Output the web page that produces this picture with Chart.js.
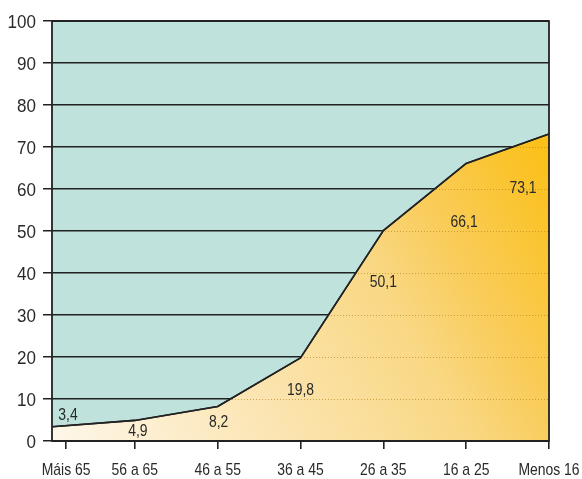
<!DOCTYPE html>
<html>
<head>
<meta charset="utf-8">
<script src="https://cdn.jsdelivr.net/npm/chart.js@4/dist/chart.umd.min.js"></script>
<style>
  html, body { margin: 0; padding: 0; background: #ffffff; }
  #wrap { width: 582px; height: 479px; }
</style>
</head>
<body>
<div id="wrap"><canvas id="c"></canvas></div>
<script>
// Age bands and cumulative share (%)
const categories = ['Máis 65', '56 a 65', '46 a 55', '36 a 45', '26 a 35', '16 a 25', 'Menos 16'];
const shares = [3.4, 4.9, 8.2, 19.8, 50.1, 66.1, 73.1];
const valueLabels = ['3,4', '4,9', '8,2', '19,8', '50,1', '66,1', '73,1'];
const yTicks = [0, 10, 20, 30, 40, 50, 60, 70, 80, 90, 100];

// Styling: where each value label sits relative to its point (px)
const labelOffsets = [[16, -13], [3, 10], [1, 15], [0, 31], [0, 51], [-2, 58], [-26, 53]];
// Category tick slots on the x scale (first one nudged inside the frame)
const tickSlots = [0.17, 1, 2, 3, 4, 5, 6];

const FONT = "'Liberation Sans', Arial, sans-serif";
const INK = '#222222';
const TEXT = '#2a2a2a';
const PLOT_BG = '#bfe3dc';

const points = shares.map((v, i) => ({ x: i, y: v }));

function areaGradient(ctx) {
  const area = ctx.chart.chartArea;
  if (!area) return '#f8d070';
  const g = ctx.chart.ctx.createLinearGradient(area.left, area.bottom, area.right, area.top + 140);
  g.addColorStop(0, '#fef8ea');
  g.addColorStop(0.04, '#fdf5e3');
  g.addColorStop(0.38, '#fbe3ad');
  g.addColorStop(0.64, '#f9d884');
  g.addColorStop(0.75, '#f9ce62');
  g.addColorStop(1, '#fbc01a');
  return g;
}

// condensed text: horizontally squeezed glyphs
function squeezedText(ctx, text, x, y, size, sx, align) {
  ctx.save();
  ctx.font = size + 'px ' + FONT;
  ctx.textAlign = align;
  ctx.textBaseline = 'alphabetic';
  ctx.translate(x, y);
  ctx.scale(sx, 1);
  ctx.fillText(text, 0, 0);
  ctx.restore();
}

const framePlugin = {
  id: 'frame',
  beforeDraw(chart) {
    const { ctx, chartArea: a } = chart;
    ctx.save();
    ctx.fillStyle = PLOT_BG;
    ctx.fillRect(a.left, a.top, a.right - a.left, a.bottom - a.top);
    ctx.restore();
  },
  afterDatasetsDraw(chart) {
    const { ctx, chartArea: a } = chart;
    const meta = chart.getDatasetMeta(0);
    const xScale = chart.scales.x;
    const yScale = chart.scales.y;

    // dotted grid lines inside the filled area
    ctx.save();
    ctx.beginPath();
    meta.data.forEach((p, i) => { if (i === 0) ctx.moveTo(p.x, p.y); else ctx.lineTo(p.x, p.y); });
    ctx.lineTo(a.right, a.bottom);
    ctx.lineTo(a.left, a.bottom);
    ctx.closePath();
    ctx.clip();
    ctx.strokeStyle = 'rgba(190,140,40,0.75)';
    ctx.lineWidth = 1;
    ctx.setLineDash([1, 2]);
    yTicks.forEach(t => {
      const y = Math.round(yScale.getPixelForValue(t)) + 0.5;
      ctx.beginPath();
      ctx.moveTo(a.left, y);
      ctx.lineTo(a.right, y);
      ctx.stroke();
    });
    ctx.restore();

    // outline of the series
    ctx.save();
    ctx.strokeStyle = INK;
    ctx.lineWidth = 1.6;
    ctx.lineJoin = 'round';
    ctx.beginPath();
    meta.data.forEach((p, i) => { if (i === 0) ctx.moveTo(p.x, p.y); else ctx.lineTo(p.x, p.y); });
    ctx.stroke();

    // plot frame
    ctx.lineWidth = 1.8;
    ctx.strokeRect(a.left, a.top, a.right - a.left, a.bottom - a.top);
    ctx.restore();

    ctx.save();
    ctx.fillStyle = TEXT;
    // value labels
    meta.data.forEach((p, i) => {
      const [dx, dy] = labelOffsets[i];
      squeezedText(ctx, valueLabels[i], p.x + dx, p.y + dy + 5.8, 16.2, 0.86, 'center');
    });
    // y tick labels
    yTicks.forEach(t => {
      squeezedText(ctx, String(t), a.left - 16, yScale.getPixelForValue(t) + 6.5, 18.5, 0.92, 'right');
    });
    // category labels
    categories.forEach((c, i) => {
      squeezedText(ctx, c, xScale.getPixelForValue(tickSlots[i]), a.bottom + 34, 17, 0.82, 'center');
    });
    ctx.restore();
  }
};

new Chart(document.getElementById('c'), {
  type: 'line',
  data: {
    datasets: [{
      data: points,
      fill: 'origin',
      backgroundColor: areaGradient,
      borderColor: INK,
      borderWidth: 1.6,
      pointRadius: 0,
      tension: 0
    }]
  },
  options: {
    responsive: true,
    maintainAspectRatio: false,
    animation: false,
    events: [],
    layout: { padding: { top: 21, right: 33, left: 0, bottom: 0 } },
    plugins: { legend: { display: false }, tooltip: { enabled: false } },
    scales: {
      x: {
        type: 'linear',
        min: 0,
        max: categories.length - 1,
        afterBuildTicks(scale) {
          scale.ticks = tickSlots.map(v => ({ value: v }));
        },
        afterFit(scale) { scale.height = 38; },
        grid: { drawOnChartArea: false, drawTicks: true, tickLength: 8, color: INK, lineWidth: 1.6 },
        border: { display: false },
        ticks: { display: false }
      },
      y: {
        min: 0,
        max: 100,
        afterBuildTicks(scale) {
          scale.ticks = yTicks.map(v => ({ value: v }));
        },
        afterFit(scale) { scale.width = 52; },
        grid: { color: INK, lineWidth: 1.5, tickLength: 9 },
        border: { display: false },
        ticks: { display: false }
      }
    }
  },
  plugins: [framePlugin]
});
</script>
</body>
</html>
